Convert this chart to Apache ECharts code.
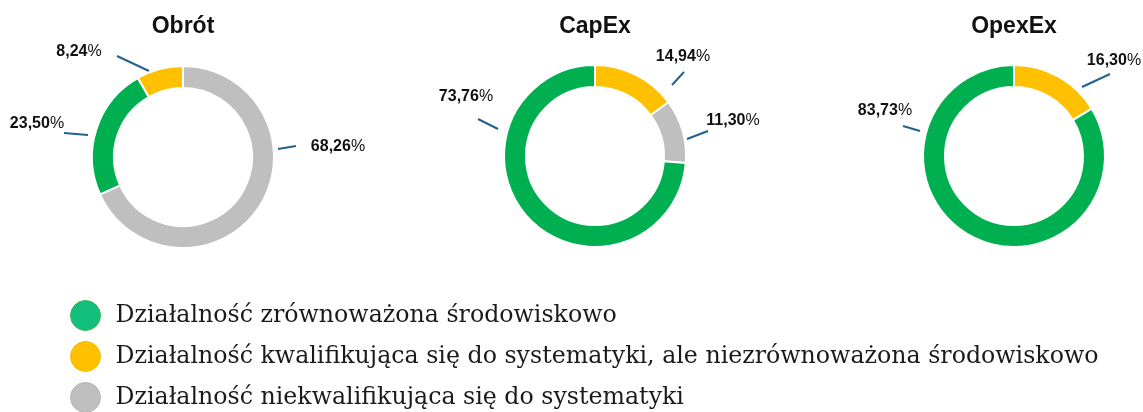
<!DOCTYPE html>
<html>
<head>
<meta charset="utf-8">
<script src="https://cdn.jsdelivr.net/npm/echarts@6/dist/echarts.min.js"></script>
<style>
  html, body { margin: 0; padding: 0; background: #fff; }
  #chart { width: 1143px; height: 412px; }
</style>
</head>
<body>
<div id="chart"></div>
<script>
var categories = [
  'Działalność zrównoważona środowiskowo',
  'Działalność kwalifikująca się do systematyki, ale niezrównoważona środowiskowo',
  'Działalność niekwalifikująca się do systematyki'
];
var pieTitles = ['Obrót', 'CapEx', 'OpexEx'];

// udział % w kolejności kategorii
var obrotValues = [23.50, 8.24, 68.26];
var capexValues = [73.76, 14.94, 11.30];
var opexValues = [83.73, 16.30, null];
var pieValues = [obrotValues, capexValues, opexValues];

// kolejność wycinków (zgodnie z ruchem wskazówek od godziny 12)
var sliceOrder = [[2, 0, 1], [1, 2, 0], [1, 0]];

var sliceColors = ['#00B050', '#FFC000', '#BFBFBF'];
var legendColors = ['#14BF7E', '#FFC000', '#BFBFBF'];
var legendBorders = ['#3AB54A', '#F7BA00', '#B5B5B5'];

var pieCenters = [[183, 157], [595, 156], [1014, 156]];

// pozycja etykiety i linii odniesienia, ta sama kolejność co sliceOrder
var labelSpots = [
  [
    {at: [338, 147], line: [[278, 149], [296, 146]]},
    {at: [37, 124], line: [[88, 135], [64, 133]]},
    {at: [79, 52], line: [[149, 71], [117, 56]]}
  ],
  [
    {at: [683, 57], line: [[672, 85], [684, 72]]},
    {at: [733, 121], line: [[687, 139], [708, 131]]},
    {at: [466, 97], line: [[498, 129], [478, 119]]}
  ],
  [
    {at: [1114, 61], line: [[1082, 87], [1110, 74]]},
    {at: [885, 111], line: [[920, 131], [903, 126]]}
  ]
];

function fmtPct(v) {
  return v.toFixed(2).replace('.', ',');
}

var titles = [];
var series = [];

for (let i = 0; i < pieTitles.length; i++) {
  titles.push({
    text: pieTitles[i],
    left: pieCenters[i][0],
    textAlign: 'center',
    top: 15,
    padding: 0,
    textStyle: {
      fontFamily: 'Liberation Sans',
      fontSize: 23,
      fontWeight: 'bold',
      color: '#111'
    }
  });

  var data = sliceOrder[i].map(function(k) {
    return {
      name: categories[k],
      value: pieValues[i][k],
      itemStyle: {color: sliceColors[k]}
    };
  });

  series.push({
    type: 'pie',
    center: pieCenters[i],
    radius: [69, 91],
    startAngle: 90,
    clockwise: true,
    avoidLabelOverlap: false,
    animation: false,
    silent: true,
    itemStyle: {
      borderColor: '#fff',
      borderWidth: 2
    },
    label: {
      show: true,
      position: 'outside',
      formatter: function(p) {
        return '{v|' + fmtPct(p.value) + '}{p|%}';
      },
      rich: {
        v: {fontFamily: 'Liberation Sans', fontSize: 16, fontWeight: 'bold', color: '#111'},
        p: {fontFamily: 'Liberation Sans', fontSize: 16, fontWeight: 'normal', color: '#111'}
      }
    },
    labelLine: {
      show: true,
      length: 10,
      length2: 10,
      lineStyle: {color: '#22628C', width: 2}
    },
    labelLayout: function(p) {
      var s = labelSpots[p.seriesIndex][p.dataIndex];
      return {
        x: s.at[0],
        y: s.at[1],
        align: 'center',
        verticalAlign: 'middle',
        labelLinePoints: s.line
      };
    },
    data: data
  });
}

var myChart = echarts.init(document.getElementById('chart'));

var option = {
  backgroundColor: '#fff',
  title: titles,
  legend: {
    orient: 'vertical',
    left: 65,
    top: 295,
    height: 200,
    itemWidth: 30,
    itemHeight: 30,
    itemGap: 10,
    icon: 'circle',
    selectedMode: false,
    textStyle: {
      fontFamily: 'DejaVu Serif',
      fontSize: 23.7,
      color: '#1a1a1a',
      padding: [0, 0, 0, 10]
    },
    data: categories.map(function(c, k) {
      return {
        name: c,
        itemStyle: {color: legendColors[k], borderColor: legendBorders[k], borderWidth: 1}
      };
    })
  },
  series: series
};

myChart.setOption(option);
</script>
</body>
</html>
